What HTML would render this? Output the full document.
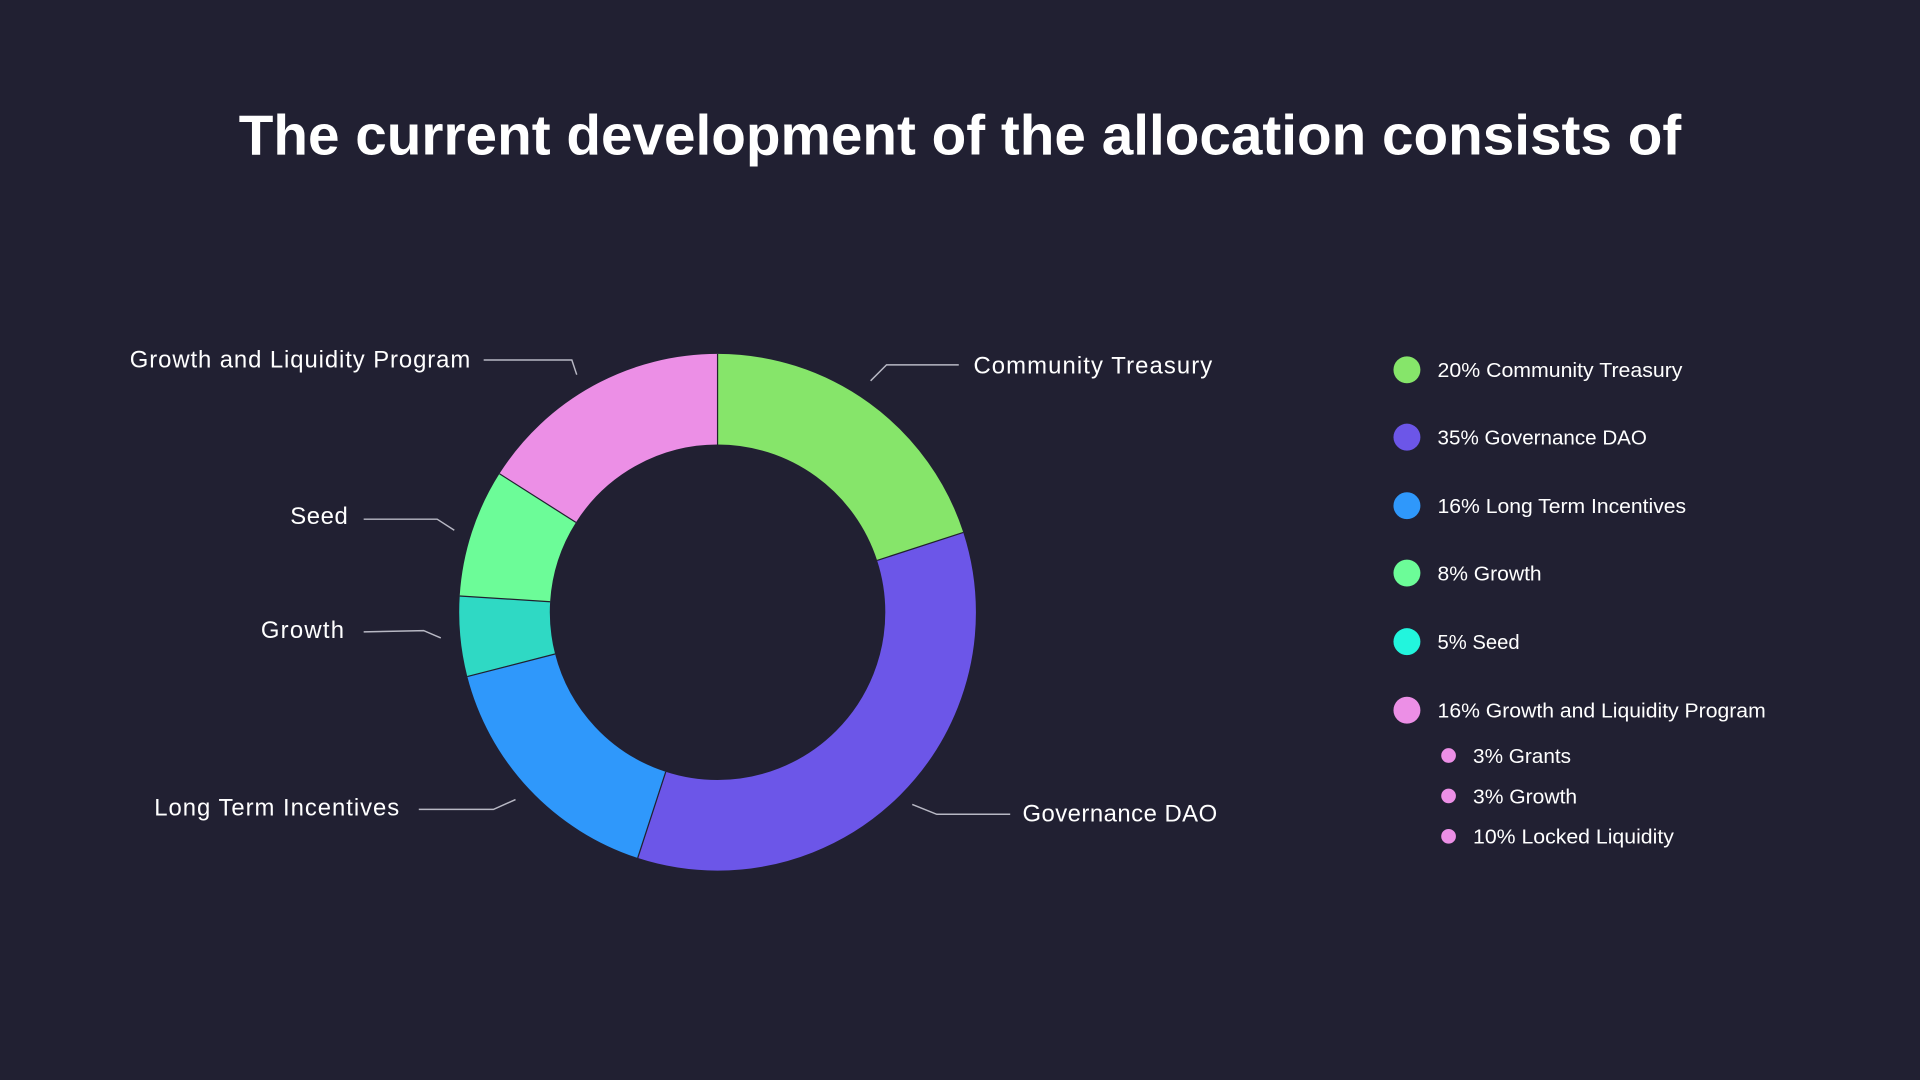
<!DOCTYPE html>
<html><head><meta charset="utf-8"><style>
html,body{margin:0;padding:0;background:#212032;width:1920px;height:1080px;overflow:hidden}
svg{display:block}
text{font-family:"Liberation Sans",sans-serif;fill:#fff}
</style></head><body>
<svg width="1920" height="1080" viewBox="0 0 1568 882">
<rect width="1568" height="882" fill="#212032"/>
<text x="784" y="126" text-anchor="middle" font-size="46" font-weight="bold" textLength="1178" lengthAdjust="spacingAndGlyphs">The current development of the allocation consists of</text>
<g fill="none" stroke-width="74" transform="rotate(-90 586 500)">
<circle cx="586" cy="500" r="174" stroke="#86e56a" stroke-dasharray="218.65 2000" stroke-dashoffset="0"/>
<circle cx="586" cy="500" r="174" stroke="#6c56e8" stroke-dasharray="382.64 2000" stroke-dashoffset="-218.65"/>
<circle cx="586" cy="500" r="174" stroke="#2f98fb" stroke-dasharray="174.92 2000" stroke-dashoffset="-601.29"/>
<circle cx="586" cy="500" r="174" stroke="#2fd9c4" stroke-dasharray="54.66 2000" stroke-dashoffset="-776.21"/>
<circle cx="586" cy="500" r="174" stroke="#6cfc98" stroke-dasharray="87.46 2000" stroke-dashoffset="-830.87"/>
<circle cx="586" cy="500" r="174" stroke="#ec8fe6" stroke-dasharray="175 2000" stroke-dashoffset="-918.33"/>
</g>
<g stroke="#21202f" stroke-width="1">
<line x1="586" y1="363" x2="586" y2="289"/>
<line x1="716.3" y1="457.7" x2="786.7" y2="434.8"/>
<line x1="543.7" y1="630.3" x2="520.8" y2="700.7"/>
<line x1="453.3" y1="534.1" x2="381.6" y2="552.5"/>
<line x1="449.3" y1="491.4" x2="375.4" y2="486.7"/>
<line x1="470.3" y1="426.6" x2="407.9" y2="386.9"/>
</g>
<g fill="none" stroke="#b8b8c4" stroke-width="1.2">
<polyline points="395,294 467,294 471,306"/>
<polyline points="711,311 724,298 783,298"/>
<polyline points="297,424 357,424 371,433"/>
<polyline points="297,516 346,515 360,521"/>
<polyline points="342,661 403,661 421,653"/>
<polyline points="745,657 765,665 825,665"/>
</g>
<g font-size="19.5" lengthAdjust="spacingAndGlyphs">
<text x="106" y="300" textLength="278">Growth and Liquidity Program</text>
<text x="795" y="305" textLength="195">Community Treasury</text>
<text x="237" y="428" textLength="47">Seed</text>
<text x="213" y="521" textLength="68">Growth</text>
<text x="126" y="666" textLength="200">Long Term Incentives</text>
<text x="835" y="671" textLength="159">Governance DAO</text>
</g>
<g>
<circle cx="1149" cy="302" r="11" fill="#86e56a"/>
<circle cx="1149" cy="357" r="11" fill="#6c56e8"/>
<circle cx="1149" cy="413" r="11" fill="#2f98fb"/>
<circle cx="1149" cy="468" r="11" fill="#6cfc98"/>
<circle cx="1149" cy="524" r="11" fill="#22f5dd"/>
<circle cx="1149" cy="580" r="11" fill="#ec8fe6"/>
<circle cx="1183" cy="617" r="6" fill="#ec8fe6"/>
<circle cx="1183" cy="650" r="6" fill="#ec8fe6"/>
<circle cx="1183" cy="683" r="6" fill="#ec8fe6"/>
</g>
<g font-size="16.5">
<text x="1174" y="308" textLength="200" lengthAdjust="spacingAndGlyphs">20% Community Treasury</text>
<text x="1174" y="363" textLength="171" lengthAdjust="spacingAndGlyphs">35% Governance DAO</text>
<text x="1174" y="419" textLength="203" lengthAdjust="spacingAndGlyphs">16% Long Term Incentives</text>
<text x="1174" y="474" textLength="85" lengthAdjust="spacingAndGlyphs">8% Growth</text>
<text x="1174" y="530" textLength="67" lengthAdjust="spacingAndGlyphs">5% Seed</text>
<text x="1174" y="586" textLength="268" lengthAdjust="spacingAndGlyphs">16% Growth and Liquidity Program</text>
<text x="1203" y="623" textLength="80" lengthAdjust="spacingAndGlyphs">3% Grants</text>
<text x="1203" y="656" textLength="85" lengthAdjust="spacingAndGlyphs">3% Growth</text>
<text x="1203" y="689" textLength="164" lengthAdjust="spacingAndGlyphs">10% Locked Liquidity</text>
</g>
</svg>
</body></html>
